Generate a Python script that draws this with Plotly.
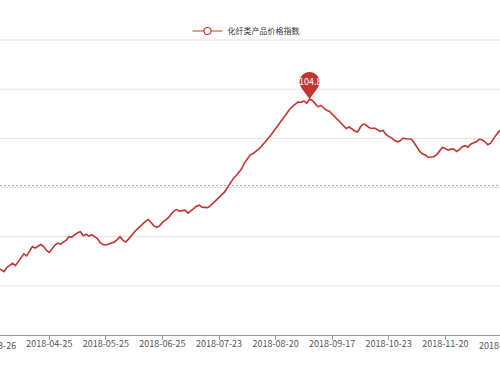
import plotly.graph_objects as go

# ---------------- data ----------------
series_name = "化纤类产品价格指数"
tick_labels = ["2018-03-26", "2018-04-25", "2018-05-25", "2018-06-25", "2018-07-23",
               "2018-08-20", "2018-09-17", "2018-10-23", "2018-11-20", "2018-12-18"]
tick_step = 20          # trading days between labelled dates
first_index = 2         # trading-day index of the first value (0 = 2018-03-26)
values = [
    101.36, 101.33, 101.29, 101.37, 101.42, 101.46, 101.41, 101.49, 101.58, 101.65,
    101.61, 101.70, 101.80, 101.77, 101.80, 101.84, 101.80, 101.72, 101.68, 101.76,
    101.83, 101.87, 101.85, 101.89, 101.93, 102.00, 101.99, 102.04, 102.08, 102.10,
    102.02, 102.05, 102.01, 102.04, 102.00, 101.96, 101.88, 101.84, 101.83, 101.85,
    101.87, 101.89, 101.94, 102.00, 101.93, 101.89, 101.95, 102.03, 102.09, 102.15,
    102.21, 102.27, 102.31, 102.35, 102.28, 102.22, 102.19, 102.22, 102.29, 102.33,
    102.38, 102.45, 102.52, 102.55, 102.52, 102.53, 102.54, 102.48, 102.52, 102.57,
    102.62, 102.64, 102.60, 102.60, 102.59, 102.63, 102.69, 102.75, 102.80, 102.86,
    102.91, 103.00, 103.09, 103.18, 103.24, 103.31, 103.38, 103.50, 103.59, 103.66,
    103.69, 103.73, 103.78, 103.84, 103.90, 103.97, 104.04, 104.12, 104.20, 104.28,
    104.36, 104.43, 104.51, 104.59, 104.65, 104.70, 104.74, 104.73, 104.76, 104.71,
    104.80, 104.77, 104.70, 104.64, 104.67, 104.62, 104.57, 104.55, 104.49, 104.43,
    104.36, 104.30, 104.25, 104.20, 104.23, 104.19, 104.15, 104.13, 104.23, 104.29,
    104.27, 104.22, 104.20, 104.21, 104.18, 104.14, 104.16, 104.08, 104.04, 104.01,
    103.96, 103.93, 103.95, 104.00, 103.99, 103.98, 103.98, 103.91, 103.82, 103.73,
    103.68, 103.66, 103.61, 103.62, 103.63, 103.67, 103.74, 103.82, 103.79, 103.76,
    103.78, 103.78, 103.73, 103.77, 103.83, 103.85, 103.82, 103.88, 103.91, 103.93,
    103.98, 103.97, 103.93, 103.87, 103.90, 103.99, 104.07, 104.14, 104.18,
]
avg_value = 103.04
grid_values = [101, 102, 103, 104, 105, 106]

# ---------------- style ----------------
W, H = 500, 375
M = dict(l=0, r=0, t=39, b=40)
x_range = [2.57, 179.34]
y_range = [100, 106.02]
red = "#c23531"
grid_color = "#e0e0e0"
font_family = "Noto Sans CJK SC, Noto Sans, sans-serif"

x = list(range(first_index, first_index + len(values)))
tick_vals = [i * tick_step for i in range(len(tick_labels))]

fig = go.Figure()
fig.add_trace(go.Scatter(
    x=x, y=values, mode="lines", name=series_name, showlegend=False,
    line=dict(color=red, width=1.6), hoverinfo="skip",
))
# legend entry (line + hollow circle)
fig.add_trace(go.Scatter(
    x=[None], y=[None], mode="lines+markers", name=series_name,
    line=dict(color=red, width=1.1),
    marker=dict(symbol="circle", size=7, color="white", line=dict(color=red, width=1.1)),
))

# horizontal split lines (drawn as shapes so the one at the top edge shows too)
for gv in grid_values:
    fig.add_shape(type="line", xref="paper", x0=0, x1=1, yref="y", y0=gv, y1=gv,
                  line=dict(color=grid_color, width=1), layer="below")

# average mark line
fig.add_shape(type="line", xref="paper", x0=0, x1=1, yref="y", y0=avg_value, y1=avg_value,
              line=dict(color="rgba(210,80,80,0.6)", width=1.2, dash="2px,2px"), layer="above")

# max pin marker
peak_val = max(values)
peak_x = x[values.index(peak_val)]
r = 10.0
cy = 17.0
k = 0.5523 * r
pin_path = (
    f"M 0,0 L -8.1,11.1 Q -{r},13.75 -{r},{cy} "
    f"C -{r},{cy + k} -{k},{cy + r} 0,{cy + r} "
    f"C {k},{cy + r} {r},{cy + k} {r},{cy} "
    f"Q {r},13.75 8.1,11.1 Z"
)
fig.add_shape(type="path", xref="x", yref="y", xsizemode="pixel", ysizemode="pixel",
              xanchor=peak_x, yanchor=peak_val, path=pin_path,
              fillcolor=red, line=dict(width=0), layer="above")
fig.add_annotation(x=peak_x, y=peak_val, xref="x", yref="y", text=f"{peak_val}",
                   showarrow=False, yshift=cy, font=dict(color="white", size=9, family=font_family))

# tick labels whose tick lies just beyond the visible plot edges
plot_w = W - M["l"] - M["r"]
px_per_idx = plot_w / (x_range[1] - x_range[0])
for tv, tl in zip(tick_vals, tick_labels):
    if tv < x_range[0] or tv > x_range[1]:
        edge = min(max(tv, x_range[0]), x_range[1])
        fig.add_annotation(x=edge, xref="x", y=0, yref="paper", text=tl, showarrow=False,
                           xanchor="center", yanchor="top", xshift=(tv - edge) * px_per_idx,
                           yshift=-2, font=dict(size=9, color="#555", family=font_family))

fig.update_layout(
    width=W, height=H, margin=M,
    paper_bgcolor="white", plot_bgcolor="white",
    font=dict(family=font_family, color="#555"),
    showlegend=True,
    legend=dict(orientation="h", x=0.5 - 4 / W, xanchor="center",
                y=1 + 8 / (H - M["t"] - M["b"]),
                yanchor="middle", font=dict(size=8, color="#333"), bgcolor="rgba(0,0,0,0)"),
    xaxis=dict(range=x_range, tickmode="array", tickvals=tick_vals, ticktext=tick_labels,
               showgrid=False, zeroline=False, showline=True, linecolor="#999", linewidth=1,
               ticks="outside", ticklen=4, tickcolor="#999", ticklabelstandoff=-4,
               tickfont=dict(size=9, color="#555", family=font_family)),
    yaxis=dict(range=y_range, showticklabels=False, showgrid=False,
               zeroline=False, showline=False, ticks=""),
)

fig.write_html("out.html", config={"displayModeBar": False},
               post_script="document.body.style.margin='0';document.body.style.overflow='hidden';")
